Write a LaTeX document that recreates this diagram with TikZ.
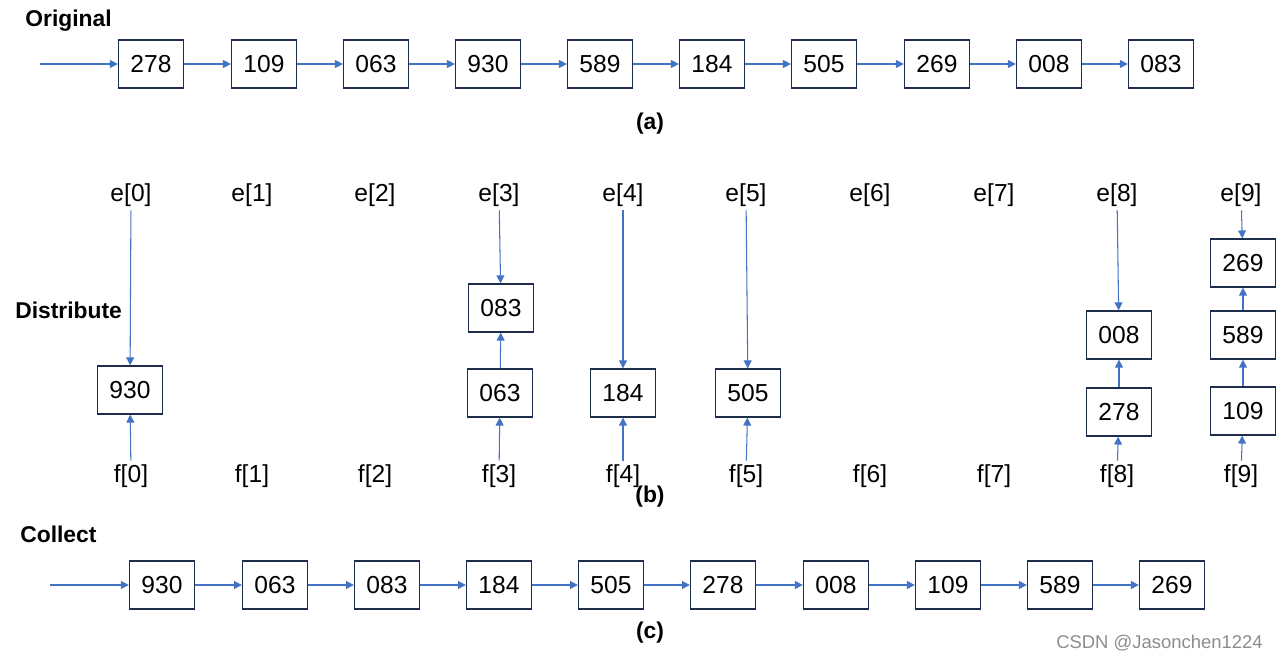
\documentclass[tikz,border=0pt]{standalone}
\usepackage{fontspec}
\setmainfont{Liberation Sans}
\usetikzlibrary{arrows.meta}

\definecolor{boxline}{HTML}{1F2D4D}
\definecolor{linkblue}{HTML}{4472C4}

\begin{document}
\begin{tikzpicture}
    [
        x=0.02cm, y=-0.02cm,
        key node/.style={draw=boxline, line width=0.75pt, minimum width=1.3cm, minimum height=0.96cm, inner sep=0pt, font=\fontsize{14}{16}\selectfont},
        bucket node/.style={inner sep=2pt, font=\fontsize{14}{16}\selectfont},
        title node/.style={inner sep=0pt, anchor=west, font=\bfseries\fontsize{13}{15}\selectfont},
        caption node/.style={inner sep=0pt, font=\bfseries\fontsize{13}{15}\selectfont},
        link/.style={draw=linkblue, line width=0.6pt, -{Triangle[length=4.5pt, width=4.5pt]}}
    ]

    \useasboundingbox (0, 0) rectangle (1278, 661);

    % (a) original list
    \node [title node] (original) at (25, 21) {Original};
    \coordinate (astart) at (40, 64);
    \node [key node] (a0) at (151, 64) {278};
    \node [key node] (a1) at (264, 64) {109};
    \node [key node] (a2) at (376, 64) {063};
    \node [key node] (a3) at (488, 64) {930};
    \node [key node] (a4) at (600, 64) {589};
    \node [key node] (a5) at (712, 64) {184};
    \node [key node] (a6) at (824, 64) {505};
    \node [key node] (a7) at (937, 64) {269};
    \node [key node] (a8) at (1049, 64) {008};
    \node [key node] (a9) at (1161, 64) {083};
    \node [caption node] (capa) at (650, 124) {(a)};

    \draw [link] (astart) -- (a0);
    \draw [link] (a0) -- (a1);
    \draw [link] (a1) -- (a2);
    \draw [link] (a2) -- (a3);
    \draw [link] (a3) -- (a4);
    \draw [link] (a4) -- (a5);
    \draw [link] (a5) -- (a6);
    \draw [link] (a6) -- (a7);
    \draw [link] (a7) -- (a8);
    \draw [link] (a8) -- (a9);

    % (b) distribute into buckets
    \node [title node] (distribute) at (15, 310) {Distribute};

    \node [bucket node] (e0) at (131, 195) {e[0]};
    \node [bucket node] (e1) at (252, 195) {e[1]};
    \node [bucket node] (e2) at (375, 195) {e[2]};
    \node [bucket node] (e3) at (499, 195) {e[3]};
    \node [bucket node] (e4) at (623, 195) {e[4]};
    \node [bucket node] (e5) at (746, 195) {e[5]};
    \node [bucket node] (e6) at (870, 195) {e[6]};
    \node [bucket node] (e7) at (994, 195) {e[7]};
    \node [bucket node] (e8) at (1117, 195) {e[8]};
    \node [bucket node] (e9) at (1241, 195) {e[9]};

    \node [bucket node] (f0) at (131, 476) {f[0]};
    \node [bucket node] (f1) at (252, 476) {f[1]};
    \node [bucket node] (f2) at (375, 476) {f[2]};
    \node [bucket node] (f3) at (499, 476) {f[3]};
    \node [bucket node] (f4) at (623, 476) {f[4]};
    \node [bucket node] (f5) at (746, 476) {f[5]};
    \node [bucket node] (f6) at (870, 476) {f[6]};
    \node [bucket node] (f7) at (994, 476) {f[7]};
    \node [bucket node] (f8) at (1117, 476) {f[8]};
    \node [bucket node] (f9) at (1241, 476) {f[9]};

    \node [key node] (b930) at (130, 390) {930};
    \node [key node] (b083) at (501, 308) {083};
    \node [key node] (b063) at (500, 393) {063};
    \node [key node] (b184) at (623, 393) {184};
    \node [key node] (b505) at (748, 393) {505};
    \node [key node] (b008) at (1119, 335) {008};
    \node [key node] (b278) at (1119, 412) {278};
    \node [key node] (b269) at (1243, 263) {269};
    \node [key node] (b589) at (1243, 335) {589};
    \node [key node] (b109) at (1243, 411) {109};

    \draw [link] (e0) -- (b930);
    \draw [link] (f0) -- (b930);
    \draw [link] (e3) -- (b083);
    \draw [link] (b063) -- (b083);
    \draw [link] (f3) -- (b063);
    \draw [link] (e4) -- (b184);
    \draw [link] (f4) -- (b184);
    \draw [link] (e5) -- (b505);
    \draw [link] (f5) -- (b505);
    \draw [link] (e8) -- (b008);
    \draw [link] (b278) -- (b008);
    \draw [link] (f8) -- (b278);
    \draw [link] (e9) -- (b269);
    \draw [link] (b589) -- (b269);
    \draw [link] (b109) -- (b589);
    \draw [link] (f9) -- (b109);

    \node [caption node] (capb) at (650, 497) {(b)};

    % (c) collected list
    \node [title node] (collect) at (20, 534) {Collect};
    \coordinate (cstart) at (50, 585);
    \node [key node] (c0) at (162, 585) {930};
    \node [key node] (c1) at (275, 585) {063};
    \node [key node] (c2) at (387, 585) {083};
    \node [key node] (c3) at (499, 585) {184};
    \node [key node] (c4) at (611, 585) {505};
    \node [key node] (c5) at (723, 585) {278};
    \node [key node] (c6) at (836, 585) {008};
    \node [key node] (c7) at (948, 585) {109};
    \node [key node] (c8) at (1060, 585) {589};
    \node [key node] (c9) at (1172, 585) {269};
    \node [caption node] (capc) at (650, 633) {(c)};

    \draw [link] (cstart) -- (c0);
    \draw [link] (c0) -- (c1);
    \draw [link] (c1) -- (c2);
    \draw [link] (c2) -- (c3);
    \draw [link] (c3) -- (c4);
    \draw [link] (c4) -- (c5);
    \draw [link] (c5) -- (c6);
    \draw [link] (c6) -- (c7);
    \draw [link] (c7) -- (c8);
    \draw [link] (c8) -- (c9);

    \node [inner sep=0pt, anchor=east, text=black!45, font=\fontsize{10.5}{12}\selectfont] (mark) at (1263, 643) {CSDN @Jasonchen1224};
\end{tikzpicture}
\end{document}
